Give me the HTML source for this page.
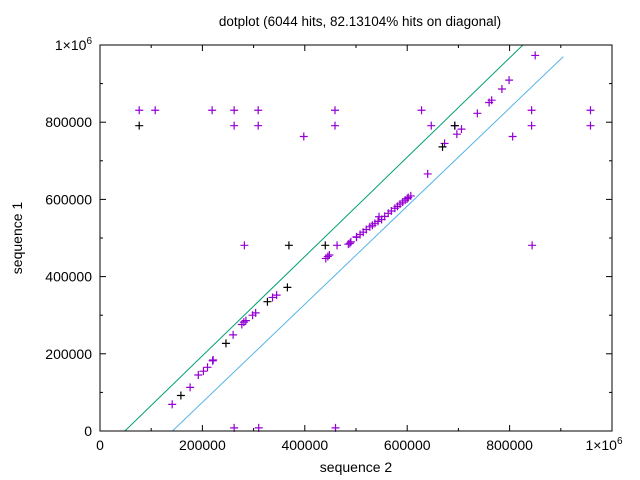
<!DOCTYPE html>
<html><head><meta charset="utf-8"><style>
body{margin:0;background:#fff;}
svg{display:block;font-family:"Liberation Sans",sans-serif;}
</style></head><body>
<svg id="chart" width="640" height="480" viewBox="0 0 640 480">
<rect width="640" height="480" fill="#fff"/>
<text x="360" y="26" font-size="13.5" text-anchor="middle">dotplot (6044 hits, 82.13104% hits on diagonal)</text>
<text x="356" y="472" font-size="14" text-anchor="middle">sequence 2</text>
<text transform="translate(22,238) rotate(-90)" font-size="14" text-anchor="middle">sequence 1</text>
<g id="axes"></g>
<g id="lines"></g>
<g id="points"></g>
<rect x="100" y="45" width="512" height="386" fill="none" stroke="#000" stroke-width="1"/>
</svg>
<script>
const xTicks=[0,200000,400000,600000,800000,1000000];
const xTickLabels=["0","200000","400000","600000","800000","1×10^6"];
const yTicks=[0,200000,400000,600000,800000,1000000];
const yTickLabels=["0","200000","400000","600000","800000","1×10^6"];
const hitX=[76600,107800,219000,262000,309000,459000,628000,843000,958000,262000,309000,459000,647000,843000,958000,398000,806000,850000,737000,799000,785000,765000,760000,706000,697000,693000,673000,640000,141000,176000,192000,202000,210000,220000,221000,260000,277000,281000,285000,298000,304000,337000,345000,282000,463000,441000,445000,448000,485000,490000,501000,262000,310000,460000,844000,488000,545000,501000,508000,514000,520000,527000,532000,537000,543000,550000,556000,563000,569000,576000,581000,586000,591000,596000,600000,602000,607000];
const hitY=[831000,831000,831000,831000,831000,831000,831000,831000,831000,791000,791000,791000,791000,791000,791000,763000,763000,973000,823000,909000,886000,857000,851000,782000,769000,791000,745000,666000,69000,113000,145000,155000,165000,182000,184000,249000,276000,282000,286000,300000,306000,346000,352000,481000,481000,447000,452000,456000,484000,490000,503000,8000,8000,8000,481000,486000,555000,502000,509000,515000,522000,529000,533000,538000,543000,548000,556000,564000,570000,577000,582000,588000,593000,598000,602000,605000,609000];
const blackX=[76600,369000,440000,158000,669000,327000,366000,246000,693000];
const blackY=[791000,481000,481000,92000,736000,335000,372000,227000,791000];
const lineStartX=[48500,141500];
const lineStartY=[0,0];
const lineEndX=[826000,905000];
const lineEndY=[1000000,970000];
const lineColors=["#009e73","#56b4e9"];
const X0=100,W=512,Y0=431,H=386;
const sx=v=>X0+v/1e6*W, sy=v=>Y0-v/1e6*H;
const NS="http://www.w3.org/2000/svg";
const ax=document.getElementById('axes');
function mk(tag,attrs,parent){const e=document.createElementNS(NS,tag);for(const k in attrs)e.setAttribute(k,attrs[k]);parent.appendChild(e);return e;}
function label(t,x,y,anchor){const e=mk('text',{x:x,y:y,'font-size':14,'text-anchor':anchor},ax);
 if(t.indexOf('^')>=0){const p=t.split('^');e.textContent=p[0];const s=mk('tspan',{dy:-6,'font-size':10},e);s.textContent=p[1];}else e.textContent=t;return e;}
for(let i=0;i<=10;i++){const v=i*100000,x=sx(v),y=sy(v),len=i%2==0?6:3;
 const t1=mk('line',{x1:x,y1:Y0,x2:x,y2:Y0-len,stroke:'#000'},ax);
 
 
 const t2=mk('line',{x1:x,y1:45,x2:x,y2:45+len,stroke:'#000'},ax);
 
 
 const t3=mk('line',{x1:X0,y1:y,x2:X0+len,y2:y,stroke:'#000'},ax);
 
 
 const t4=mk('line',{x1:X0+W,y1:y,x2:X0+W-len,y2:y,stroke:'#000'},ax);
 
 }
xTicks.forEach((v,i)=>{const e=label(xTickLabels[i],sx(v)+(i==5?-8:0),450,'middle');
 
 });
yTicks.forEach((v,i)=>{const e=label(yTickLabels[i],92,sy(v)+5,'end');
 
 });
const lg=document.getElementById('lines');
lineStartX.forEach((v,i)=>{const l=mk('line',{x1:sx(v),y1:sy(lineStartY[i]),x2:sx(lineEndX[i]),y2:sy(lineEndY[i]),stroke:lineColors[i],'stroke-width':1},lg);
 
 });
const pg=document.getElementById('points');
function cross(x,y,c,name){const px=sx(x),py=sy(y);
 const p=mk('path',{d:`M${px-4},${py}H${px+4}M${px},${py-4}V${py+4}`,stroke:c,'stroke-width':1.2,fill:'none'},pg);
 
 }
hitX.forEach((v,i)=>cross(v,hitY[i],'#9400d3','hit-point'));
blackX.forEach((v,i)=>cross(v,blackY[i],'#000','reverse-hit-point'));
</script>
</body></html>
